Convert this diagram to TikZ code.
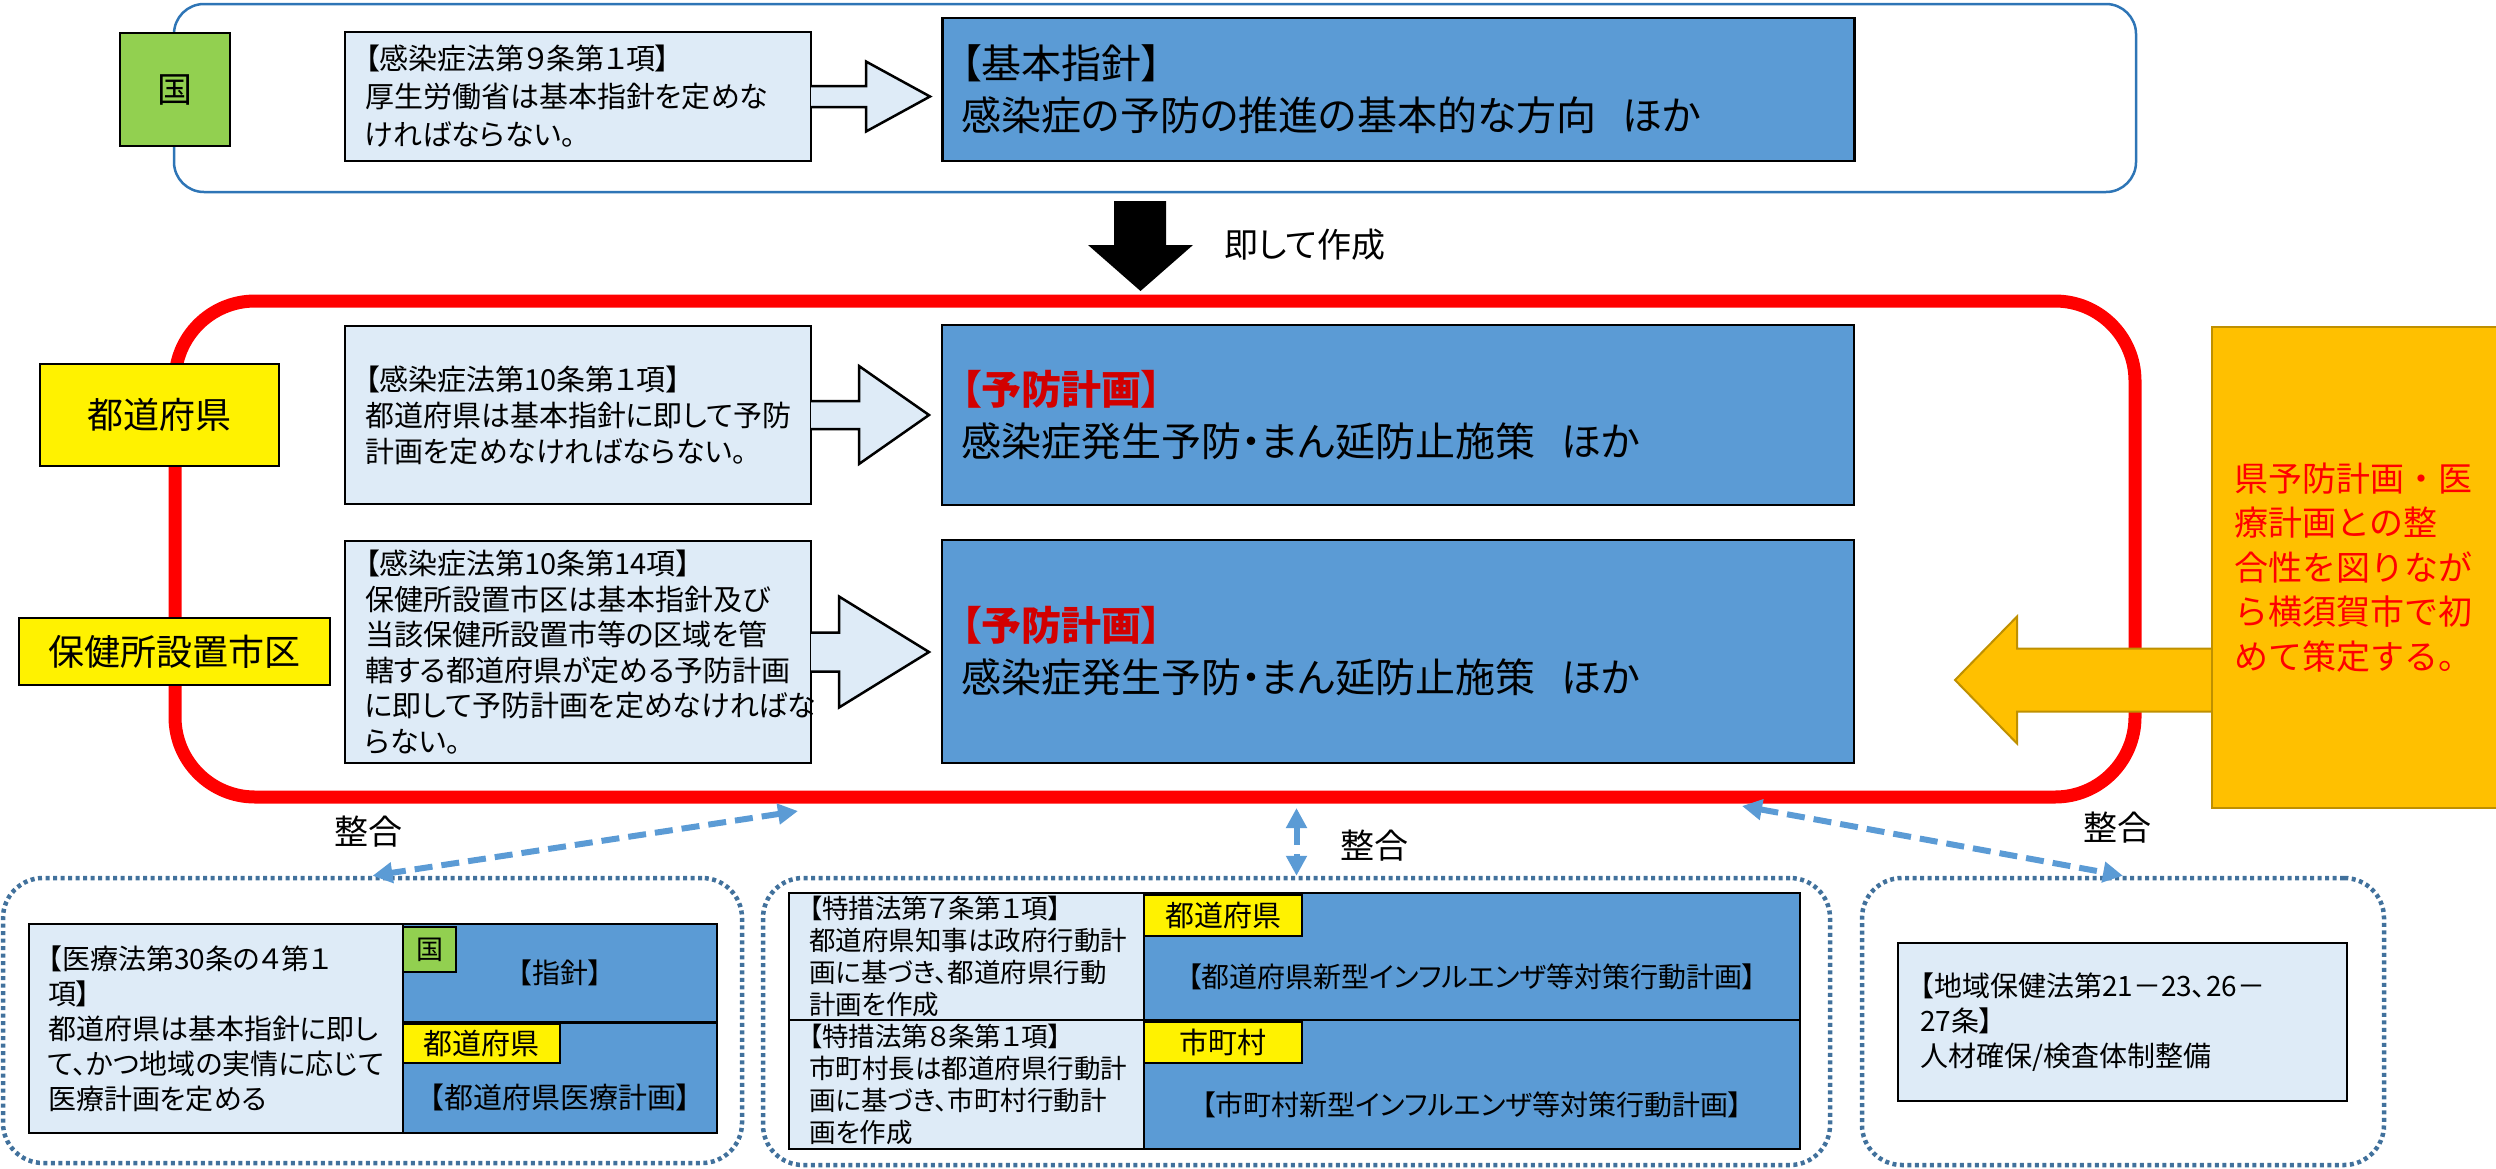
\documentclass[tikz,border=0pt]{standalone}
\usepackage{fontspec}
\setmainfont{Noto Sans CJK JP}[RawFeature=+palt]
\newfontfamily\widefont{Noto Sans CJK JP}
\usepackage{tikz}
\usetikzlibrary{arrows.meta}
\tikzset{>={Triangle[width=20pt,length=20pt]}}
\definecolor{paleBlue}{RGB}{222,235,247}
\definecolor{planBlue}{RGB}{91,155,213}
\definecolor{frameBlue}{RGB}{46,117,182}
\definecolor{dotBlue}{RGB}{65,113,156}
\definecolor{kuniGreen}{RGB}{146,208,80}
\definecolor{goldFill}{RGB}{255,192,0}
\definecolor{goldLine}{RGB}{191,144,0}
\definecolor{planRed}{RGB}{210,0,0}
\newcommand{\fs}[2]{\fontsize{#1}{#2}\selectfont}
\newcommand{\planred}[1]{\textbf{\textcolor{planRed}{#1}}}
\newcommand{\gap}{\hspace{26pt}}
% hollow block arrow: tail x, head base x, tip x, centre y, half body, half head
\newcommand{\blockarrow}[6]{%
  \draw[line width=2.5pt, fill=paleBlue, line join=miter]
    (#1,{#4-#5}) -- (#2,{#4-#5}) -- (#2,{#4-#6}) -- (#3,#4)
    -- (#2,{#4+#6}) -- (#2,{#4+#5}) -- (#1,{#4+#5});}

\begin{document}
\begin{tikzpicture}[
    x = 1pt, y = -1pt,
    box/.style = {draw, line width=2.5pt, inner sep=0pt},
    lawbox/.style = {box, fill=paleBlue, align=left, inner xsep=20pt},
    planbox/.style = {box, fill=planBlue, align=left, inner xsep=19pt,
        font=\fs{40}{52}},
    tagbox/.style = {box, fill=yellow},
    kunibox/.style = {box, fill=kuniGreen},
    grpframe/.style = {draw=dotBlue, line width=4.5pt,
        dash pattern=on 4pt off 3.5pt, rounded corners=40pt},
    link/.style = {<->, planBlue, line width=6pt, dash pattern=on 18pt off 9pt},
    seigou/.style = {font=\widefont\fs{34}{40}}
  ]
  \useasboundingbox (0,0) rectangle (2496,1168);

  % national level
  \draw[frameBlue, line width=2.5pt, rounded corners=30pt] (174,4) rectangle (2136,192);
  \node[kunibox, minimum width=110pt, minimum height=113pt, font=\fs{35}{38}]
    (KUNI) at (175,89.5) {国};
  \node[lawbox, text width=426pt, minimum height=129pt, font=\fs{29}{38}]
    (LAW1) at (578,96.5)
    {【感染症法第９条第１項】\\厚生労働省は基本指針を定めな\\ければならない。};
  \node[planbox, text width=874pt, minimum height=143pt]
    (KIHON) at (1398.5,89.5)
    {【基本指針】\\感染症の予防の推進の基本的な方向\gap ほか};
  \blockarrow{811}{866}{930}{96.5}{10.5}{35}

  \fill (1114,201) -- (1166,201) -- (1166,245) -- (1193,245) -- (1140.5,291)
    -- (1088,245) -- (1114,245) -- cycle;
  \node[font=\fs{34}{40}] (SOKU) at (1305,245) {即して作成};

  % prefecture level
  \node[draw=red, line width=13pt, rounded corners=80pt,
    minimum width=1960pt, minimum height=496pt] (RED) at (1155,549) {};
  \node[tagbox, minimum width=239pt, minimum height=102pt, font=\fs{36}{40}]
    (PREF) at (159.5,415) {都道府県};
  \node[tagbox, minimum width=311pt, minimum height=67pt, font=\fs{36}{40}]
    (HOKEN) at (174.5,651.5) {保健所設置市区};
  \node[lawbox, text width=426pt, minimum height=178pt, font=\fs{29}{36}]
    (LAW2) at (578,415)
    {【感染症法第10条第１項】\\都道府県は基本指針に即して予防\\計画を定めなければならない。};
  \node[lawbox, text width=426pt, minimum height=222pt, font=\fs{29}{35.5}]
    (LAW3) at (578,652)
    {【感染症法第10条第14項】\\保健所設置市区は基本指針及び\\当該保健所設置市等の区域を管\\轄する都道府県が定める予防計画\\に即して予防計画を定めなければな\\らない。};
  \node[planbox, text width=874pt, minimum height=180pt]
    (PLAN1) at (1398,415)
    {\planred{【予防計画】}\\感染症発生予防・まん延防止施策\gap ほか};
  \node[planbox, text width=874pt, minimum height=223pt]
    (PLAN2) at (1398,651.5)
    {\planred{【予防計画】}\\感染症発生予防・まん延防止施策\gap ほか};
  \blockarrow{811}{859}{929}{415}{14}{49}
  \blockarrow{811}{839}{929}{652}{19.5}{55.5}

  % Yokosuka note
  \draw[goldLine, fill=goldFill, line width=2pt, line join=miter]
    (2211,648.5) -- (2017,648.5) -- (2017,616.5) -- (1955,680)
    -- (2017,743.5) -- (2017,711.5) -- (2211,711.5);
  \node[draw=goldLine, fill=goldFill, line width=2pt, anchor=north west,
    inner sep=0pt, inner xsep=22pt, text width=246pt, minimum height=481pt,
    align=left, text=red, font=\widefont\fs{34}{44.5}]
    (YOKO) at (2211,326)
    {県予防計画・医\\療計画との整\\合性を図りなが\\ら横須賀市で初\\めて策定する。};

  % related plans
  \node[grpframe, minimum width=739pt, minimum height=285pt] (GRPL) at (372.5,1020.5) {};
  \node[grpframe, minimum width=1067pt, minimum height=287pt] (GRPM) at (1296.5,1021.5) {};
  \node[grpframe, minimum width=522pt, minimum height=287pt] (GRPR) at (2123,1021.5) {};

  \coordinate (JL) at (798,811);
  \coordinate (JM) at (1296.5,808);
  \coordinate (JR) at (1742,806);
  \draw[link] (JL) -- (GRPL.north);
  \draw[link] (JM) -- (GRPM.north);
  \draw[link] (JR) -- (GRPR.north);
  \node[seigou] (SG1) at (368,832) {整合};
  \node[seigou] (SG2) at (1374,846) {整合};
  \node[seigou] (SG3) at (2117,828) {整合};

  % medical plan
  \node[lawbox, inner xsep=19pt, text width=336pt, minimum height=209pt, font=\fs{28}{35}]
    (IRYOLAW) at (216,1028.5)
    {【医療法第30条の４第１\\項】\\都道府県は基本指針に即し\\て、かつ地域の実情に応じて\\医療計画を定める};
  \node[box, fill=planBlue, minimum width=314pt, minimum height=98pt, font=\fs{28}{34}]
    (SHISHIN) at (560,973) {【指針】};
  \node[box, fill=planBlue, minimum width=314pt, minimum height=110pt] (IRYO) at (560,1078) {};
  \node[font=\fs{29}{34}] (IRYOTXT) at ([yshift=-19pt]IRYO.center) {【都道府県医療計画】};
  \node[kunibox, minimum width=53pt, minimum height=45pt, font=\fs{27}{30}]
    (KUNI2) at (429.5,949.5) {国};
  \node[tagbox, minimum width=157pt, minimum height=39pt, font=\fs{29}{32}]
    (PREF2) at (481.5,1043.5) {都道府県};

  % influenza action plans
  \node[lawbox, text width=315pt, minimum height=127pt, font=\fs{26.5}{32}]
    (TOKU7) at (966.5,956.5)
    {【特措法第７条第１項】\\都道府県知事は政府行動計\\画に基づき、都道府県行動\\計画を作成};
  \node[lawbox, text width=315pt, minimum height=129pt, font=\fs{26.5}{32}]
    (TOKU8) at (966.5,1084.5)
    {【特措法第８条第１項】\\市町村長は都道府県行動計\\画に基づき、市町村行動計\\画を作成};
  \node[box, fill=planBlue, minimum width=656pt, minimum height=127pt] (FLUA) at (1472,956.5) {};
  \node[box, fill=planBlue, minimum width=656pt, minimum height=129pt] (FLUB) at (1472,1084.5) {};
  \node[font=\fs{28}{32}] (FLUATXT) at ([yshift=-20.5pt]FLUA.center)
    {【都道府県新型インフルエンザ等対策行動計画】};
  \node[font=\fs{28}{32}] (FLUBTXT) at ([yshift=-20.5pt]FLUB.center)
    {【市町村新型インフルエンザ等対策行動計画】};
  \node[tagbox, minimum width=158pt, minimum height=41pt, font=\fs{29}{32}]
    (PREF3) at (1223,915.5) {都道府県};
  \node[tagbox, minimum width=158pt, minimum height=41pt, font=\fs{29}{32}]
    (TOWN) at (1223,1042.5) {市町村};

  % community health
  \node[lawbox, inner xsep=22pt, text width=405pt, minimum height=158pt, font=\fs{28}{35}]
    (CHIIKI) at (2122.5,1022)
    {【地域保健法第21－23、26－\\27条】\\人材確保/検査体制整備};
\end{tikzpicture}
\end{document}
